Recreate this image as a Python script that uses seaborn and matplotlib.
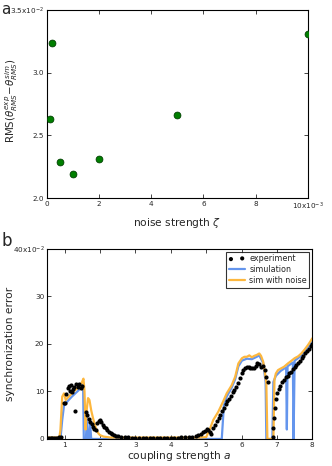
import numpy as np
import pandas as pd
import matplotlib
matplotlib.use("Agg")
import matplotlib.pyplot as plt
import seaborn as sns

# panel a: noise strength (x10^-3) vs RMS difference (x10^-2)
noise_strength = [0.1, 0.2, 0.5, 1.0, 2.0, 5.0, 10.0]
rms_diff = [2.63, 3.24, 2.29, 2.19, 2.31, 2.66, 3.31]

# panel b: experiment dots (coupling strength a, error x10^-2)
exp_a = [0.50, 0.55, 0.60, 0.65, 0.70, 0.75, 0.80, 0.85, 0.90, 0.97,
         1.00, 1.05, 1.08, 1.11, 1.14, 1.17, 1.20, 1.23, 1.27, 1.30,
         1.33, 1.37, 1.41, 1.45, 1.49, 1.60, 1.64, 1.68, 1.72, 1.76,
         1.80, 1.84, 1.88, 1.92, 1.96, 2.00, 2.04, 2.08, 2.12, 2.16,
         2.20, 2.25, 2.30, 2.35, 2.40, 2.45, 2.50, 2.60, 2.70, 2.80,
         2.90, 3.00, 3.10, 3.20, 3.30, 3.40, 3.50, 3.60, 3.70, 3.80,
         3.90, 4.00, 4.10, 4.20, 4.30, 4.40, 4.50, 4.60, 4.70, 4.78,
         4.85, 4.92, 4.97, 5.02, 5.06, 5.10, 5.14, 5.20, 5.25, 5.30,
         5.35, 5.40, 5.45, 5.50, 5.55, 5.60, 5.65, 5.70, 5.75, 5.80,
         5.85, 5.90, 5.95, 6.00, 6.05, 6.10, 6.15, 6.20, 6.25, 6.30,
         6.35, 6.40, 6.45, 6.50, 6.55, 6.60, 6.65, 6.70, 6.74, 6.88,
         6.90, 6.92, 6.94, 6.97, 7.00, 7.05, 7.10, 7.15, 7.20, 7.25,
         7.30, 7.35, 7.40, 7.45, 7.50, 7.55, 7.60, 7.65, 7.70, 7.75,
         7.80, 7.85, 7.90, 7.95, 8.00]
exp_err = [0.3, 0.3, 0.3, 0.3, 0.3, 0.3, 0.3, 0.4, 0.5, 7.5,
           7.6, 9.5, 10.7, 11.2, 10.0, 11.4, 9.8, 10.6, 11.0, 5.8,
           11.5, 11.0, 11.6, 10.7, 11.2, 5.7, 5.0, 4.1, 3.6, 3.2,
           2.6, 2.1, 1.8, 3.3, 3.8, 4.0, 3.6, 3.0, 2.6, 2.3,
           1.9, 1.5, 1.2, 1.0, 0.8, 0.7, 0.6, 0.5, 0.4, 0.4,
           0.3, 0.3, 0.3, 0.3, 0.2, 0.2, 0.2, 0.2, 0.2, 0.2,
           0.3, 0.3, 0.3, 0.3, 0.4, 0.4, 0.5, 0.5, 0.6, 0.8,
           1.1, 1.4, 1.6, 2.0, 1.9, 1.4, 1.0, 2.4, 3.0, 3.7,
           4.4, 5.1, 5.9, 6.6, 7.3, 7.9, 8.4, 9.0, 9.8, 10.3,
           11.0, 11.8, 12.8, 13.8, 14.5, 15.0, 15.2, 15.2, 15.0, 15.0,
           14.9, 15.4, 15.9, 15.8, 15.2, 15.4, 14.5, 13.1, 12.1, 0.5,
           2.3, 4.4, 6.5, 8.5, 9.6, 10.5, 11.2, 12.0, 12.5, 13.0,
           13.3, 13.8, 14.2, 14.7, 15.2, 15.6, 16.0, 16.5, 17.0, 17.5,
           18.0, 18.5, 19.0, 19.5, 19.9]

# simulation without noise
sim_a = [0.50, 0.88, 0.93, 0.98, 1.00, 1.10, 1.20, 1.30, 1.40, 1.50,
         1.52, 1.54, 1.60, 1.63, 1.66, 1.69, 1.72, 1.75, 5.44, 5.50,
         5.58, 5.72, 5.82, 5.91, 6.01, 6.15, 6.29, 6.43, 6.50, 6.61,
         6.68, 6.70, 6.87, 6.90, 6.97, 7.10, 7.20, 7.26, 7.28, 7.30,
         7.45, 7.47, 7.50, 7.60, 7.70, 7.80, 7.90, 8.00]
sim_err = [0.0, 0.0, 4.0, 7.0, 7.2, 8.1, 8.9, 9.6, 10.3, 11.2,
           11.4, 0.0, 0.0, 5.0, 0.0, 0.0, 3.0, 0.0, 0.0, 7.0,
           8.9, 10.8, 12.6, 15.3, 16.5, 16.9, 16.8, 17.3, 17.6, 16.0,
           12.0, 0.0, 0.0, 12.0, 13.3, 14.3, 14.8, 15.0, 2.0, 15.3,
           16.1, 0.0, 16.5, 17.0, 17.7, 18.5, 19.5, 20.7]

# simulation with noise
noise_a = [0.50, 0.85, 0.88, 0.93, 0.98, 1.03, 1.10, 1.20, 1.30, 1.40,
           1.48, 1.53, 1.56, 1.59, 1.62, 1.66, 1.70, 1.75, 1.80, 1.85,
           1.90, 1.95, 2.00, 2.10, 2.30, 3.00, 4.00, 4.80, 5.00, 5.10,
           5.20, 5.34, 5.48, 5.58, 5.72, 5.82, 5.91, 6.01, 6.08, 6.15,
           6.22, 6.29, 6.36, 6.43, 6.50, 6.55, 6.61, 6.66, 6.70, 6.73,
           6.90, 6.93, 6.97, 7.03, 7.10, 7.20, 7.31, 7.40, 7.50, 7.60,
           7.69, 7.78, 7.88, 7.95, 8.00]
noise_err = [0.3, 0.3, 2.0, 8.9, 9.6, 8.2, 8.8, 9.6, 10.3, 11.0,
             11.8, 12.7, 10.0, 2.0, 6.0, 8.6, 8.2, 6.0, 4.4, 3.0,
             1.9, 1.2, 0.8, 0.5, 0.3, 0.3, 0.3, 0.3, 0.4, 2.0,
             4.0, 5.7, 7.9, 9.6, 11.3, 13.1, 15.9, 17.0, 17.3, 17.3,
             17.6, 17.2, 17.5, 17.7, 18.0, 17.5, 16.3, 14.0, 11.7, 0.0,
             0.0, 12.5, 13.8, 14.5, 14.8, 15.2, 15.9, 16.4, 17.0, 17.4,
             18.0, 18.8, 19.8, 20.6, 21.2]

sns.set_style("ticks", {"xtick.direction": "in", "ytick.direction": "in",
                        "axes.edgecolor": "black"})
plt.rcParams["xtick.top"] = True
plt.rcParams["ytick.right"] = True
plt.rcParams["font.family"] = ["DejaVu Sans"]
plt.rcParams["mathtext.fontset"] = "dejavusans"

fig = plt.figure(figsize=(3.32, 4.66), dpi=100)
ax1 = fig.add_axes([0.1416, 0.575, 0.7855, 0.4035])
ax2 = fig.add_axes([0.1416, 0.058, 0.7991, 0.4077])

# --- panel a
df_a = pd.DataFrame({"zeta": noise_strength, "rms": rms_diff})
sns.scatterplot(data=df_a, x="zeta", y="rms", ax=ax1, color="#007f00",
                edgecolor="#004000", linewidth=0.6, s=24, zorder=3)
ax1.set_xlim(0, 10)
ax1.set_ylim(2.0, 3.5)
ax1.set_xticks([0, 2, 4, 6, 8, 10])
ax1.set_xticklabels(["0", "2", "4", "6", "8", "10x10$^{-3}$"])
ax1.set_yticks([2.0, 2.5, 3.0, 3.5])
ax1.set_yticklabels(["2.0", "2.5", "3.0", "3.5x10$^{-2}$"])
ax1.set_xlabel(r"noise strength $\zeta$", fontsize=7.7, labelpad=3)
ax1.set_ylabel(r"RMS($\theta^{exp}_{RMS}$$-\theta^{sim}_{RMS}$)", fontsize=7.4)
ax1.yaxis.set_label_coords(-0.105, 0.52)

# --- panel b
df_sim = pd.DataFrame({"a": sim_a, "err": sim_err})
df_noise = pd.DataFrame({"a": noise_a, "err": noise_err})
df_exp = pd.DataFrame({"a": exp_a, "err": exp_err})

sns.lineplot(data=df_sim, x="a", y="err", ax=ax2, color="#6495ED", lw=1.6,
             sort=False, estimator=None, label="simulation", zorder=2)
sns.lineplot(data=df_noise, x="a", y="err", ax=ax2, color="#FDB73E", lw=1.6,
             sort=False, estimator=None, label="sim with noise", zorder=2.5)
sns.scatterplot(data=df_exp, x="a", y="err", ax=ax2, color="black", s=9,
                linewidth=0, label="experiment", zorder=3)

ax2.set_xlim(0.5, 8)
ax2.set_ylim(0, 40)
ax2.set_xticks([1, 2, 3, 4, 5, 6, 7, 8])
ax2.set_yticks([0, 10, 20, 30, 40])
ax2.set_yticklabels(["0", "10", "20", "30", "40x10$^{-2}$"])
ax2.set_xlabel(r"coupling strength $a$", fontsize=7.7, labelpad=1)
ax2.set_ylabel("synchronization error", fontsize=7.7)
ax2.yaxis.set_label_coords(-0.12, 0.5)

handles, labels = ax2.get_legend_handles_labels()
order = [labels.index("experiment"), labels.index("simulation"),
         labels.index("sim with noise")]
leg = ax2.legend([handles[i] for i in order], [labels[i] for i in order],
                 loc="upper right", fontsize=5.8, frameon=True, fancybox=False,
                 scatterpoints=2, handlelength=2.0, borderaxespad=0.35,
                 labelspacing=0.25, borderpad=0.3, handletextpad=0.6)
leg.get_frame().set_edgecolor("black")
leg.get_frame().set_linewidth(0.8)

for ax in (ax1, ax2):
    ax.tick_params(labelsize=5.2, length=3, width=0.6, pad=2)
    for sp in ax.spines.values():
        sp.set_linewidth(0.8)
        sp.set_color("black")

fig.text(0.003, 0.98, "a", fontsize=11, va="center")
fig.text(0.006, 0.483, "b", fontsize=12, va="center")

fig.savefig("out.png", dpi=100)
